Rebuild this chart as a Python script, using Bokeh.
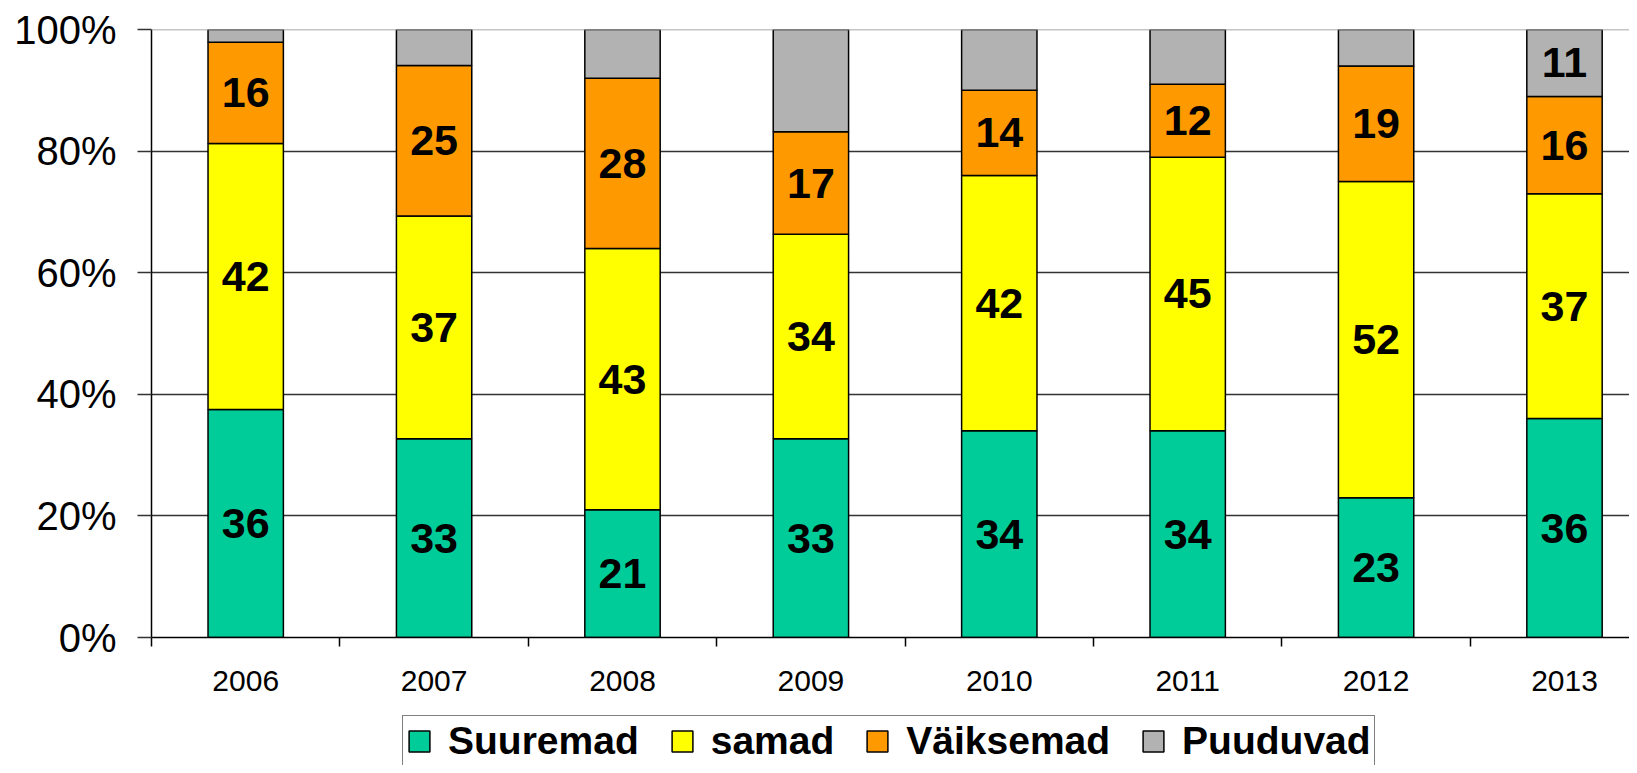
from bokeh.plotting import figure
from bokeh.layouts import column
from bokeh.models import (Range1d, FixedTicker, NumeralTickFormatter, Legend, LegendItem,
                          ColumnDataSource, Span)
from bokeh.core.properties import value
from bokeh.embed import file_html
from bokeh.resources import INLINE

years = ["2006", "2007", "2008", "2009", "2010", "2011", "2012", "2013"]
series_names = ["Suuremad", "samad", "Väiksemad", "Puuduvad"]
suuremad = [36, 33, 21, 33, 34, 34, 23, 36]
samad = [42, 37, 43, 34, 42, 45, 52, 37]
vaiksemad = [16, 25, 28, 17, 14, 12, 19, 16]
puuduvad = [2, 6, 8, 17, 10, 9, 6, 11]
puuduvad_shown = [False, False, False, False, False, False, False, True]
colors = ["#00CC99", "#FFFF00", "#FF9900", "#B2B2B2"]
y_ticks = [0, 0.2, 0.4, 0.6, 0.8, 1.0]

FONT = "Liberation Sans"
W = 1629
LEFT = 151

series = [suuremad, samad, vaiksemad, puuduvad]
totals = [sum(v) for v in zip(*series)]
x = [i + 0.5 for i in range(len(years))]

p = figure(width=W, height=700, output_backend="svg", toolbar_location=None,
           x_range=Range1d(0, (W - LEFT) / 188.4), y_range=Range1d(0, 1),
           min_border_left=LEFT, min_border_top=29, min_border_bottom=63, min_border_right=0)
p.outline_line_color = None
p.background_fill_color = "white"
p.border_fill_color = "white"

# grid
p.xgrid.grid_line_color = None
p.ygrid.ticker = FixedTicker(ticks=[0.2, 0.4, 0.6, 0.8])
p.ygrid.grid_line_color = "#333333"
p.ygrid.grid_line_width = 1.5
p.add_layout(Span(location=1.0, dimension="width", line_color="#8a8a8a", line_width=1.5))

# stacked bars
bottoms = [0.0] * len(years)
for name, vals, col in zip(series_names, series, colors):
    frac = [v / t for v, t in zip(vals, totals)]
    tops = [b + f for b, f in zip(bottoms, frac)]
    src = ColumnDataSource(dict(x=x, bottom=bottoms, top=tops))
    p.vbar(x="x", width=0.4, bottom="bottom", top="top", source=src,
           fill_color=col, line_color="black", line_width=1.5)
    mids = [(b + t) / 2 for b, t in zip(bottoms, tops)]
    if name == "Puuduvad":
        lx = [xx for xx, s in zip(x, puuduvad_shown) if s]
        ly = [m for m, s in zip(mids, puuduvad_shown) if s]
        lt = [str(v) for v, s in zip(vals, puuduvad_shown) if s]
    else:
        lx, ly, lt = x, mids, [str(v) for v in vals]
    p.text(x=lx, y=ly, text=lt, text_font=value(FONT), text_font_style="bold",
           text_font_size="43px", text_align="center", text_baseline="middle",
           text_color="black")
    bottoms = tops

# y axis
p.yaxis.ticker = FixedTicker(ticks=y_ticks)
p.yaxis.formatter = NumeralTickFormatter(format="0%")
p.yaxis.major_label_text_font = FONT
p.yaxis.major_label_text_font_size = "40px"
p.yaxis.major_label_text_color = "black"
p.yaxis.major_tick_out = 14
p.yaxis.major_tick_in = 0
p.yaxis.minor_tick_out = 0
p.yaxis.minor_tick_in = 0
p.yaxis.major_label_standoff = 21
p.yaxis.axis_line_color = "black"
p.yaxis.axis_line_width = 1.5
p.yaxis.major_tick_line_color = "#333333"
p.yaxis.major_tick_line_width = 1.5

# x axis
p.xaxis.ticker = FixedTicker(ticks=x, minor_ticks=list(range(len(years) + 1)))
p.xaxis.major_label_overrides = {xx: y for xx, y in zip(x, years)}
p.xaxis.major_label_text_font = FONT
p.xaxis.major_label_text_font_size = "30px"
p.xaxis.major_label_text_color = "black"
p.xaxis.major_tick_out = 0
p.xaxis.major_tick_in = 0
p.xaxis.minor_tick_out = 9
p.xaxis.minor_tick_in = 0
p.xaxis.minor_tick_line_color = "black"
p.xaxis.minor_tick_line_width = 1.5
p.xaxis.major_label_standoff = 24
p.xaxis.axis_line_color = "black"
p.xaxis.axis_line_width = 1.5

# legend strip (legend box runs past the bottom edge, as in the reference)
LH = 65
leg = figure(width=W, height=LH, output_backend="svg", toolbar_location=None,
             x_range=Range1d(0, 1), y_range=Range1d(0, 1),
             x_axis_location=None, y_axis_location=None,
             min_border_left=LEFT, min_border_right=0, min_border_top=0, min_border_bottom=0)
leg.outline_line_color = None
leg.xgrid.grid_line_color = None
leg.ygrid.grid_line_color = None
leg_renderers = []
for col in colors:
    # dummy bar with no drawable position, only used for the legend swatch
    leg_renderers.append(leg.vbar(x=[float("nan")], width=0.4, top=[float("nan")], fill_color=col,
                                  line_color="black", line_width=1.5))
legend = Legend(items=[LegendItem(label=n, renderers=[r]) for n, r in zip(series_names, leg_renderers)],
                orientation="horizontal", location=(402 - LEFT, -2),
                label_text_font=FONT, label_text_font_style="bold", label_text_font_size="39px",
                label_text_color="black", glyph_width=26, glyph_height=26,
                label_standoff=16, spacing=30, padding=3, margin=0,
                border_line_color="black", border_line_width=1.5,
                background_fill_color="white", background_fill_alpha=1.0)
leg.add_layout(legend, "center")

layout = column(p, leg, spacing=0)
open("out.html", "w").write(file_html(layout, INLINE))
